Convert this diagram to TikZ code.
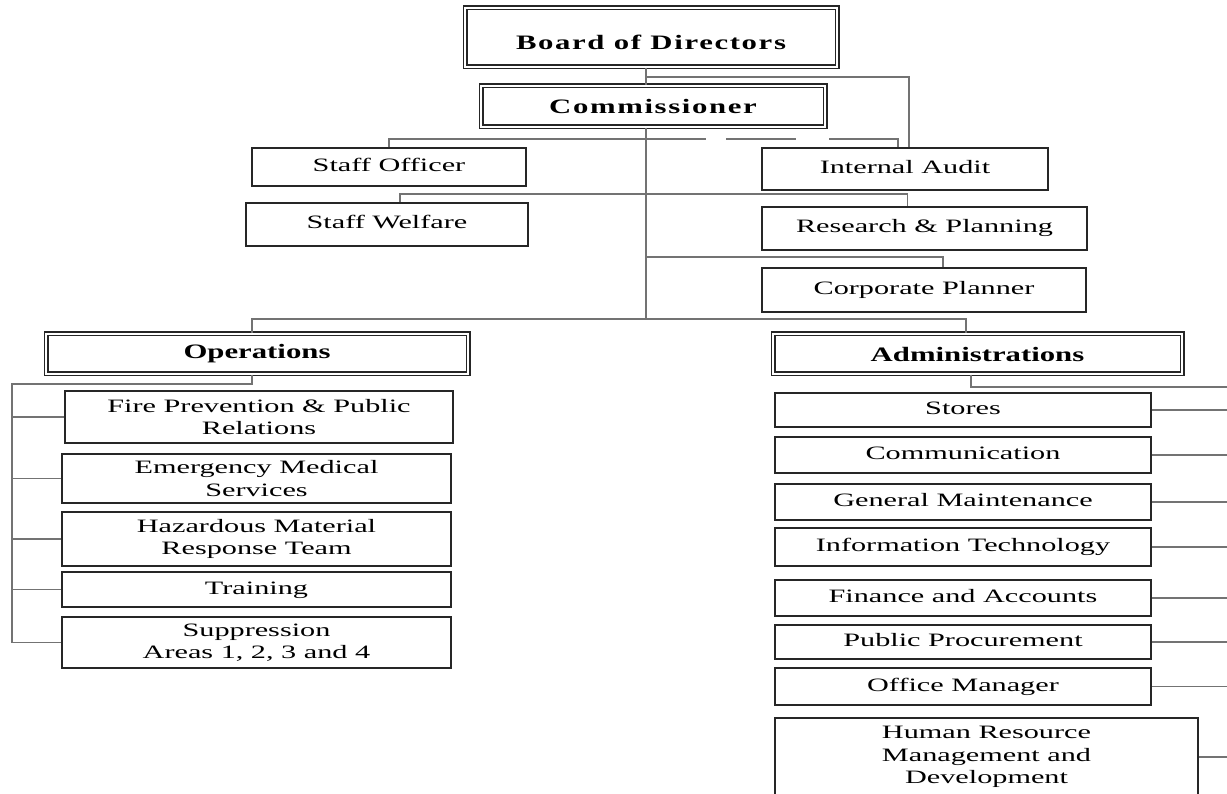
\documentclass[tikz,border=0pt]{standalone}
\usepackage{fontspec}
\setmainfont{Liberation Serif}
\newfontfamily\unitfont{Liberation Serif}[FakeStretch=1.6]
\newfontfamily\deptfont{Liberation Serif}[FakeStretch=1.5]
\newfontfamily\headfont{Liberation Serif}[FakeStretch=1.5,LetterSpace=8]
\usetikzlibrary{calc}

\begin{document}
\begin{tikzpicture}[x=1pt,y=-1pt,
  unit/.style={draw=black!85,line width=1.7pt,fill=white,inner sep=0pt,align=center,
    font=\unitfont\fontsize{18.9}{22.5}\selectfont},
  oneline/.style={text height=13pt,text depth=4pt},
  head/.style={draw=black!85,double,double distance=2.2pt,line width=1.4pt,fill=white,
    inner sep=0pt,font=\deptfont\fontsize{20.5}{24}\selectfont\bfseries},
  toptxt/.style={font=\headfont\fontsize{20.5}{24}\selectfont\bfseries},
  link/.style={draw=black!55,line width=1.3pt}]
\useasboundingbox (0,0) rectangle (1227,794);
\clip (0,0) rectangle (1227,794);

% Board and commissioner
\node[head,toptxt,minimum width=372pt,text height=42pt,text depth=17pt,anchor=base] (board) at (651,50) {Board of Directors};
\node[head,toptxt,minimum width=344pt,minimum height=41pt] (comm) at (653,106.5) {Commissioner};

% Staff units
\node[unit,oneline,minimum width=274pt,minimum height=38pt] (so) at (389,167) {Staff Officer};
\node[unit,oneline,minimum width=282pt,minimum height=43pt] (sw) at (387,224.5) {Staff Welfare};
\node[unit,oneline,minimum width=286pt,minimum height=42pt] (audit) at (905,169) {Internal Audit};
\node[unit,oneline,minimum width=325pt,minimum height=43pt] (rp) at (924.5,228.5) {Research \& Planning};
\node[unit,oneline,minimum width=324pt,minimum height=44pt] (cp) at (924,290) {Corporate Planner};

% Departments
\node[head,minimum width=422pt,minimum height=40pt] (ops) at (257,354) {Operations};
\node[head,minimum width=409pt,minimum height=40pt] (adm) at (977.5,354) {Administrations};

% Operations units
\node[unit,minimum width=388pt,minimum height=52pt] (fire) at (259,417) {Fire Prevention \& Public\\Relations};
\node[unit,minimum width=389pt,minimum height=49pt] (ems) at (256.5,478.5) {Emergency Medical\\Services};
\node[unit,minimum width=389pt,minimum height=54pt] (hazmat) at (256.5,539) {Hazardous Material\\Response Team};
\node[unit,oneline,minimum width=389pt,minimum height=35pt] (train) at (256.5,589.5) {Training};
\node[unit,minimum width=389pt,minimum height=51pt] (sup) at (256.5,642.5) {Suppression\\Areas 1, 2, 3 and 4};

% Administration units
\node[unit,oneline,minimum width=376pt,minimum height=34pt] (stores) at (963,410) {Stores};
\node[unit,oneline,minimum width=376pt,minimum height=36pt] (comms) at (963,455) {Communication};
\node[unit,oneline,minimum width=376pt,minimum height=36pt] (maint) at (963,502) {General Maintenance};
\node[unit,oneline,minimum width=376pt,minimum height=38pt] (it) at (963,547) {Information Technology};
\node[unit,oneline,minimum width=376pt,minimum height=36pt] (fin) at (963,598) {Finance and Accounts};
\node[unit,oneline,minimum width=376pt,minimum height=34pt] (proc) at (963,642) {Public Procurement};
\node[unit,oneline,minimum width=376pt,minimum height=37pt] (office) at (963,686.5) {Office Manager};
\node[unit,minimum width=423pt,minimum height=78pt] (hr) at (986.5,757) {Human Resource\\Management and\\Development};

% Trunk
\coordinate (trunk) at (646,0);
\coordinate (tap) at (646,77);
\coordinate (j1) at (646,139);
\coordinate (j3) at (646,257);
\coordinate (j4) at (646,319);
\draw[link] (board.south -| trunk) -- (comm.north -| trunk);
\draw[link] (tap) -| ([xshift=4pt]audit.north);
\draw[link] (comm.south -| trunk) -- (j4);
\draw[link] (so.north) |- (j1);
\draw[link,dash pattern=on 60pt off 20pt on 70pt off 33pt on 90pt] (j1) -| ([xshift=-7pt]audit.north);
\draw[link] ([xshift=13pt]sw.north) -- ++(0,-8) -| ([xshift=-17pt]rp.north);
\draw[link] (j3) -| ([xshift=19pt]cp.north);
\draw[link] ([xshift=-5pt]ops.north) |- (j4) -| ([xshift=-11.5pt]adm.north);

% Operations bus
\coordinate (opsbus) at (12,384);
\draw[link] ([xshift=-5pt]ops.south) |- (opsbus) |- (sup.west);
\foreach \n in {fire,ems,hazmat,train}
  \draw[link] (\n.west) -- (\n.west -| opsbus);

% Administration bus
\coordinate (admbus) at (1235,387);
\draw[link] ([xshift=-6.5pt]adm.south) |- (admbus);
\foreach \n in {stores,comms,maint,it,fin,proc,office,hr}
  \draw[link] (\n.east) -- (\n.east -| admbus);
\end{tikzpicture}
\end{document}
